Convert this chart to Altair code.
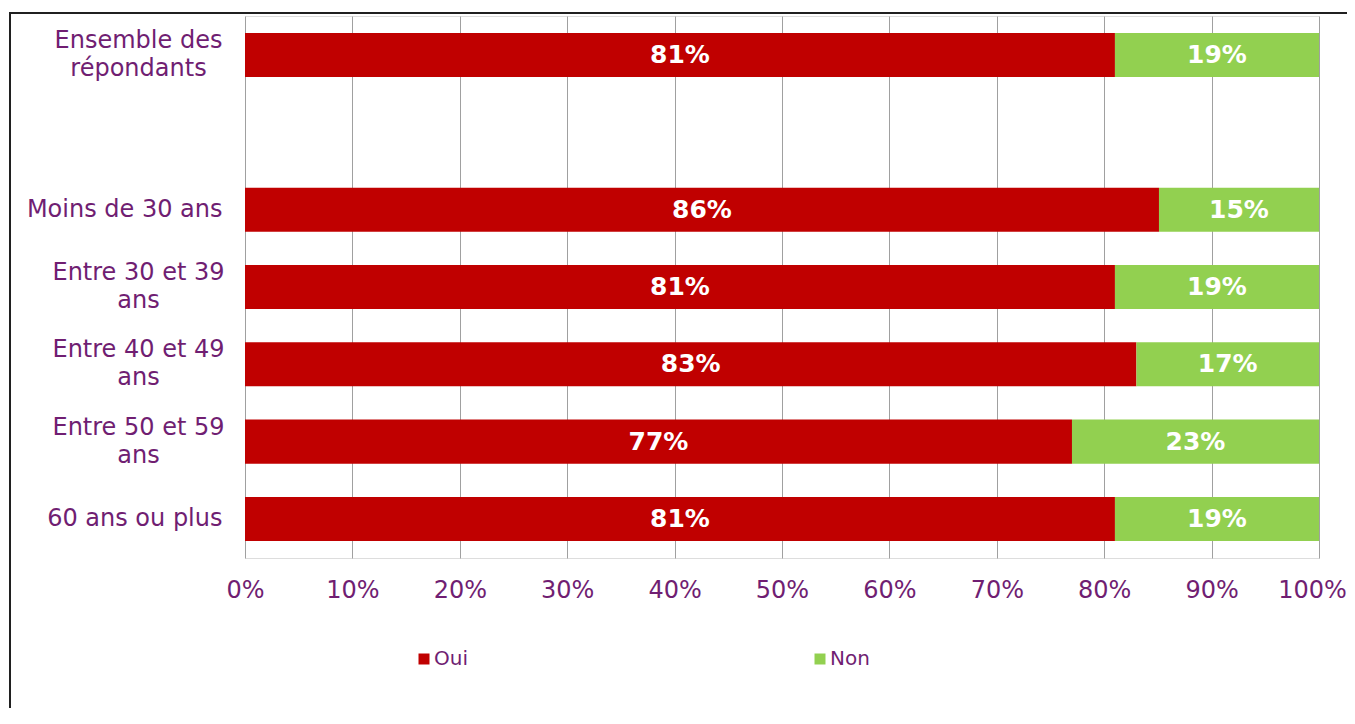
import altair as alt
import pandas as pd

# ---- data ----
categories = [
    "Ensemble des|répondants",
    " ",
    "Moins de 30 ans",
    "Entre 30 et 39|ans",
    "Entre 40 et 49|ans",
    "Entre 50 et 59|ans",
    "60 ans ou plus",
]
groups = [
    "Ensemble des|répondants",
    "Moins de 30 ans",
    "Entre 30 et 39|ans",
    "Entre 40 et 49|ans",
    "Entre 50 et 59|ans",
    "60 ans ou plus",
]
oui_values = [81, 85.1, 81, 83, 77, 81]
oui_labels = ["81%", "86%", "81%", "83%", "77%", "81%"]
non_labels = ["19%", "15%", "19%", "17%", "23%", "19%"]
series = ["Oui", "Non"]
colors = ["#C00000", "#92D050"]
x_ticks = [0, 10, 20, 30, 40, 50, 60, 70, 80, 90, 100]

rows = []
for g, o, lo, ln in zip(groups, oui_values, oui_labels, non_labels):
    rows.append({"cat": g, "serie": "Oui", "start": 0, "end": o, "label": lo})
    rows.append({"cat": g, "serie": "Non", "start": o, "end": 100, "label": ln})
df = pd.DataFrame(rows)
df["mid"] = (df["start"] + df["end"]) / 2

PURPLE = "#701E72"
FONT = "DejaVu Sans"
MULTI = "indexof(datum.value, '|') >= 0"

y_scale = alt.Scale(domain=categories, paddingInner=0.43, paddingOuter=0.22)

y_enc = alt.Y(
    "cat:N",
    scale=y_scale,
    axis=alt.Axis(
        title=None,
        domain=False,
        ticks=False,
        tickSize=0,
        labelAlign={"condition": {"test": MULTI, "value": "center"}, "value": "right"},
        labelBaseline="middle",
        labelPadding={"condition": {"test": MULTI, "value": 107}, "value": 23},
        labelLimit=400,
        labelExpr="split(datum.label, '|')",
        labelOffset={"condition": {"test": MULTI, "value": -14}, "value": 0},
        labelFont=FONT,
        labelFontSize=24,
        labelColor=PURPLE,
        labelLineHeight=28,
        grid=False,
    ),
)

x_scale = alt.Scale(domain=[0, 100], nice=False)

bars = alt.Chart(df).mark_bar(stroke=None).encode(
    y=y_enc,
    x=alt.X(
        "start:Q",
        scale=x_scale,
        axis=alt.Axis(
            title=None,
            values=x_ticks,
            labelExpr="datum.value + '%'",
            domain=False,
            ticks=False,
            tickSize=0,
            labelFlush=False,
            labelOffset={"condition": {"test": "datum.value == 100", "value": -7}, "value": 0},
            labelPadding=20,
            labelFont=FONT,
            labelFontSize=24,
            labelColor=PURPLE,
            grid=True,
            gridColor="#A0A0A0",
            gridWidth=1,
        ),
    ),
    x2="end:Q",
    color=alt.Color(
        "serie:N",
        scale=alt.Scale(domain=series, range=colors),
        legend=alt.Legend(
            title=None,
            orient="none",
            direction="horizontal",
            legendX=169,
            legendY=633,
            padding=0,
            symbolType="square",
            symbolSize=121,
            symbolStrokeWidth=0,
            labelOffset=0,
            columnPadding=342,
            gridAlign="each",
            labelFont=FONT,
            labelFontSize=20,
            labelColor=PURPLE,
        ),
    ),
)

texts = alt.Chart(df).mark_text(
    color="white", font=FONT, fontSize=25, fontWeight="bold", baseline="middle"
).encode(
    y=alt.Y("cat:N", scale=y_scale),
    x=alt.X("mid:Q", scale=x_scale),
    text="label:N",
)

frame_top = alt.Chart(pd.DataFrame({"a": [0]})).mark_rule(
    color="#202020", strokeWidth=2, clip=False
).encode(x=alt.value(-236), x2=alt.value(1140), y=alt.value(-3))

frame_left = alt.Chart(pd.DataFrame({"a": [0]})).mark_rule(
    color="#202020", strokeWidth=2, clip=False
).encode(x=alt.value(-235), y=alt.value(-3), y2=alt.value(720))

chart = alt.layer(bars, texts, frame_top, frame_left).properties(
    width=1074,
    height=542,
    autosize=alt.AutoSizeParams(type="none"),
    padding={"left": 237, "top": 8, "right": 28, "bottom": 150},
).configure_view(stroke=None).configure(background="white")

chart.save("out.html", embed_options={"renderer": "svg", "actions": False})
